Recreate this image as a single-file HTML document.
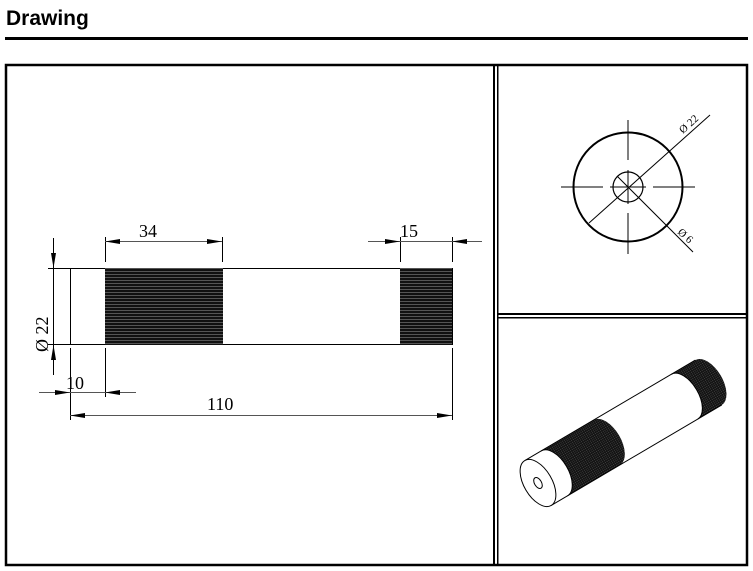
<!DOCTYPE html>
<html><head><meta charset="utf-8"><style>
html,body{margin:0;padding:0;background:#fff;width:753px;height:571px;overflow:hidden}
</style></head><body>
<svg width="753" height="571" viewBox="0 0 753 571" xmlns="http://www.w3.org/2000/svg">
<defs>
<pattern id="kn" width="2" height="3" patternUnits="userSpaceOnUse">
<rect width="2" height="3" fill="#111"/><rect y="1" width="2" height="1" fill="#555"/>
</pattern>
<pattern id="kn2" width="2" height="2" patternUnits="userSpaceOnUse">
<rect width="2" height="2" fill="#111"/><rect width="1" height="1" fill="#444"/>
</pattern>
</defs>
<text x="6" y="25" font-family="Liberation Sans, sans-serif" font-weight="bold" font-size="21">Drawing</text>
<rect x="5" y="37" width="743" height="3" fill="#000"/>
<rect x="6" y="65" width="741" height="500" fill="none" stroke="#000" stroke-width="2.5"/>
<rect x="493" y="65" width="2" height="500" fill="#000"/>
<rect x="497" y="65" width="1.5" height="500" fill="#000"/>
<rect x="497" y="313" width="250" height="2" fill="#000"/>
<rect x="497" y="317" width="250" height="1.5" fill="#000"/>
<g stroke="#000" stroke-width="1" fill="none">
<rect x="70.5" y="268.5" width="382" height="76"/>
<rect x="105" y="268" width="118" height="77" fill="url(#kn)" stroke="none"/>
<rect x="400" y="268" width="52" height="77" fill="url(#kn)" stroke="none"/>
<line x1="48" y1="268.5" x2="70" y2="268.5"/>
<line x1="48" y1="344.5" x2="70" y2="344.5"/>
<line x1="53.5" y1="238" x2="53.5" y2="375"/>
<line x1="105.5" y1="237" x2="105.5" y2="262"/>
<line x1="222.5" y1="237" x2="222.5" y2="262"/>
<line x1="105" y1="241.5" x2="222" y2="241.5" stroke="#555"/>
<line x1="400.5" y1="237" x2="400.5" y2="262"/>
<line x1="452.5" y1="237" x2="452.5" y2="262"/>
<line x1="368" y1="241.5" x2="482" y2="241.5" stroke="#555"/>
<line x1="70.5" y1="348" x2="70.5" y2="420"/>
<line x1="105.5" y1="348" x2="105.5" y2="397"/>
<line x1="452.5" y1="348" x2="452.5" y2="420"/>
<line x1="39" y1="392.5" x2="136" y2="392.5" stroke="#555"/>
<line x1="70" y1="415.5" x2="452" y2="415.5" stroke="#555"/>
</g>
<g fill="#000">
<polygon points="105,241.5 120,239 120,244"/>
<polygon points="222,241.5 207,239 207,244"/>
<polygon points="400,241.5 385,239 385,244"/>
<polygon points="452,241.5 467,239 467,244"/>
<polygon points="53.5,268 51,253 56,253"/>
<polygon points="53.5,345 51,360 56,360"/>
<polygon points="70,392.5 55,390 55,395"/>
<polygon points="105,392.5 120,390 120,395"/>
<polygon points="70,415.5 85,413 85,418"/>
<polygon points="452,415.5 437,413 437,418"/>
</g>
<g font-family="Liberation Serif, serif" font-size="18" fill="#000">
<text x="139" y="237">34</text>
<text x="400" y="237">15</text>
<text x="66" y="389">10</text>
<text x="207" y="410">110</text>
<text transform="translate(48,352) rotate(-90)">Ø  22</text>
</g>
<g stroke="#000" fill="none">
<circle cx="628" cy="187" r="54.5" stroke-width="2"/>
<circle cx="628" cy="187" r="15" stroke-width="1.2"/>
<line x1="628" y1="120" x2="628" y2="160"/>
<line x1="628" y1="170" x2="628" y2="204"/>
<line x1="628" y1="213" x2="628" y2="254"/>
<line x1="561" y1="187" x2="603" y2="187"/>
<line x1="610" y1="187" x2="646" y2="187"/>
<line x1="653" y1="187" x2="695" y2="187"/>
<line x1="710" y1="115" x2="589" y2="223"/>
<line x1="617" y1="176" x2="693" y2="252"/>
</g>
<g font-family="Liberation Serif, serif" font-size="11" fill="#000">
<text transform="translate(683,134) rotate(-42)">Ø 22</text>
<text transform="translate(677,233) rotate(42)">Ø 6</text>
</g>
<g transform="translate(538,483) rotate(-30.5)" stroke="#000" stroke-width="1">
<rect x="170" y="-26" width="28" height="52" fill="url(#kn2)" stroke="none"/>
<ellipse cx="198" cy="0" rx="14" ry="26" fill="url(#kn2)" stroke="none"/>
<rect x="80" y="-26" width="90" height="52" fill="#fff" stroke="none"/>
<ellipse cx="170" cy="0" rx="14" ry="26" fill="#fff" stroke="none"/>
<path d="M170,-26 A14,26 0 0 1 170,26" fill="none"/>
<rect x="19" y="-26" width="61" height="52" fill="url(#kn2)" stroke="none"/>
<ellipse cx="80" cy="0" rx="14" ry="26" fill="url(#kn2)" stroke="none"/>
<rect x="0" y="-26" width="19" height="52" fill="#fff" stroke="none"/>
<ellipse cx="19" cy="0" rx="14" ry="26" fill="#fff" stroke="none"/>
<path d="M19,-26 A14,26 0 0 1 19,26" fill="none"/>
<line x1="0" y1="-26" x2="198" y2="-26"/>
<line x1="0" y1="26" x2="198" y2="26"/>
<ellipse cx="0" cy="0" rx="14" ry="26" fill="#fff"/>
<ellipse cx="0" cy="0" rx="3.5" ry="6" fill="#fff"/>
</g>
</svg>
</body></html>
